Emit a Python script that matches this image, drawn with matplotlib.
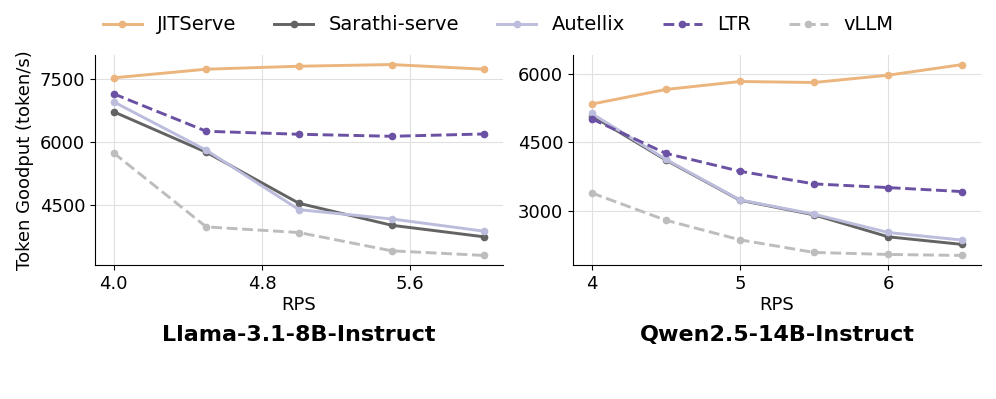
import numpy as np
import matplotlib.pyplot as plt

# request rates for the two models
rps_llama = [4.0, 4.5, 5.0, 5.5, 6.0]
rps_qwen = [4.0, 4.5, 5.0, 5.5, 6.0, 6.5]

# token goodput (token/s), Llama-3.1-8B-Instruct
llama_jitserve = [7524, 7729, 7800, 7840, 7729]
llama_sarathi = [6718, 5755, 4540, 4018, 3742]
llama_autellix = [6955, 5803, 4389, 4168, 3876]
llama_ltr = [7145, 6253, 6182, 6134, 6189]
llama_vllm = [5739, 3979, 3845, 3410, 3300]

# token goodput (token/s), Qwen2.5-14B-Instruct
qwen_jitserve = [5341, 5663, 5839, 5817, 5978, 6212]
qwen_sarathi = [5090, 4112, 3227, 2905, 2422, 2254]
qwen_autellix = [5137, 4127, 3234, 2920, 2517, 2349]
qwen_ltr = [5020, 4259, 3864, 3586, 3505, 3417]
qwen_vllm = [3388, 2788, 2356, 2078, 2034, 2012]

names = ["JITServe", "Sarathi-serve", "Autellix", "LTR", "vLLM"]
colors = ["#EBB57D", "#636363", "#BCBDDC", "#6A51A3", "#BDBDBD"]
styles = ["-", "-", "-", "--", "--"]

fig = plt.figure(figsize=(9.96, 3.99), dpi=100)
ax1 = fig.add_axes([95/996, 1-265/399, 408/996, 210/399])
ax2 = fig.add_axes([573/996, 1-265/399, 408/996, 210/399])

panels = [
    (ax1, rps_llama, [llama_jitserve, llama_sarathi, llama_autellix, llama_ltr, llama_vllm],
     "Llama-3.1-8B-Instruct", [4.0, 4.8, 5.6], ["4.0", "4.8", "5.6"], [4500, 6000, 7500]),
    (ax2, rps_qwen, [qwen_jitserve, qwen_sarathi, qwen_autellix, qwen_ltr, qwen_vllm],
     "Qwen2.5-14B-Instruct", [4, 5, 6], ["4", "5", "6"], [3000, 4500, 6000]),
]

for ax, x, series, title, xt, xtl, yt in panels:
    for ys, name, c, ls in zip(series, names, colors, styles):
        ax.plot(x, ys, linestyle=ls, color=c, marker="o", markersize=4.5,
                linewidth=2.1, label=name)
    ax.set_xticks(xt)
    ax.set_xticklabels(xtl)
    ax.set_yticks(yt)
    ax.tick_params(labelsize=13)
    ax.grid(True, color="#e0e0e0", linewidth=0.8)
    ax.set_axisbelow(True)
    ax.spines["top"].set_visible(False)
    ax.spines["right"].set_visible(False)
    ax.set_xlabel("RPS", fontsize=13, labelpad=2)
    ax.set_title(title, fontsize=16, fontweight="bold", y=-0.40)

ax1.set_ylabel("Token Goodput (token/s)", fontsize=13)

handles, labels = ax1.get_legend_handles_labels()
fig.legend(handles, labels, loc="center", bbox_to_anchor=(0.5, 1-25/399),
           ncol=5, frameon=False, fontsize=14, handlelength=2, columnspacing=1.95)

fig.savefig("out.png", dpi=100)
